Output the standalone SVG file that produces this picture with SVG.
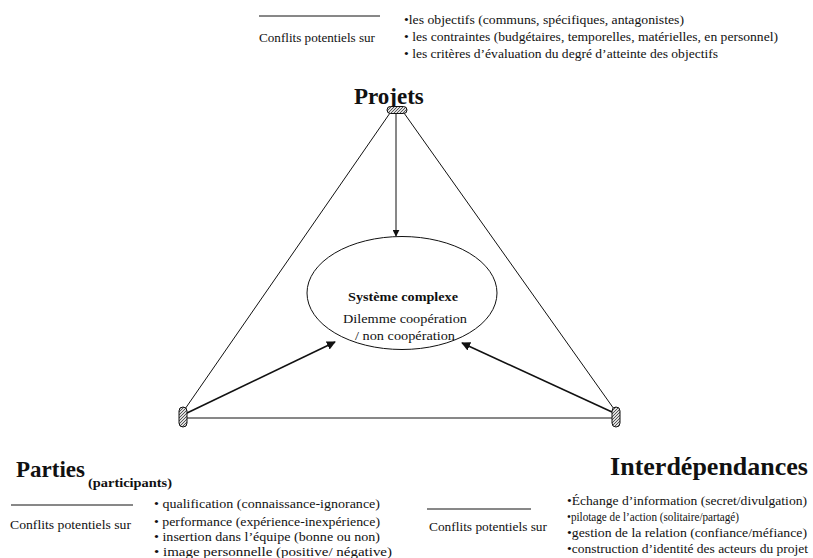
<svg xmlns="http://www.w3.org/2000/svg" width="813" height="558" viewBox="0 0 813 558">
<style>
text{font-family:"Liberation Serif","Times New Roman",serif;fill:#111}
.s{font-size:12px}
.m{font-size:12px}
.t{font-size:23px;font-weight:bold}
.ln{stroke:#111;stroke-width:1;fill:none}
.ar{stroke:#111;stroke-width:1.6;fill:none}
</style>
<defs>
<pattern id="hatch" width="3" height="3" patternUnits="userSpaceOnUse"><rect width="3" height="3" fill="#ddd"/><path d="M0 3L3 0" stroke="#333" stroke-width="0.8"/></pattern>
<marker id="ah" viewBox="0 0 10 10" refX="9" refY="5" markerWidth="7" markerHeight="7" markerUnits="userSpaceOnUse" orient="auto"><path d="M0 0L10 5L0 10z" fill="#111"/></marker>
<marker id="ah2" viewBox="0 0 10 10" refX="9" refY="5" markerWidth="9" markerHeight="9" markerUnits="userSpaceOnUse" orient="auto"><path d="M0 0L10 5L0 10z" fill="#111"/></marker>
</defs>
<g id="connectors">
<line class="ln" x1="390" y1="113" x2="185" y2="409"/>
<line class="ln" x1="404" y1="113" x2="614" y2="409"/>
<line class="ln" x1="187" y1="418" x2="612" y2="418"/>
<line class="ln" x1="396" y1="114" x2="396" y2="236" marker-end="url(#ah)"/>
<line class="ar" x1="187" y1="413" x2="335" y2="342" marker-end="url(#ah2)"/>
<line class="ar" x1="612" y1="412" x2="462" y2="343" marker-end="url(#ah2)"/>
</g>
<g id="systeme">
<ellipse cx="402" cy="293" rx="95" ry="56.5" fill="none" stroke="#111" stroke-width="1"/>
<text x="348" y="301" textLength="110" lengthAdjust="spacingAndGlyphs" style="font-size:13px;font-weight:bold">Système complexe</text>
<text x="343" y="323" textLength="124" lengthAdjust="spacingAndGlyphs" style="font-size:13px">Dilemme coopération</text>
<text x="355" y="340" textLength="100" lengthAdjust="spacingAndGlyphs" style="font-size:13px">/ non coopération</text>
</g>
<g id="projets">
<text x="354" y="104" class="t">Projets</text>
<rect x="387" y="106.5" width="20" height="7" rx="3.5" fill="url(#hatch)" stroke="#111" stroke-width="1"/>
<line class="ln" x1="259" y1="16" x2="380" y2="16"/>
<text x="259" y="42" class="s" textLength="116" lengthAdjust="spacingAndGlyphs">Conflits potentiels sur</text>
<text x="404" y="24" class="s" textLength="280" lengthAdjust="spacingAndGlyphs">•les objectifs (communs, spécifiques, antagonistes)</text>
<text x="404" y="41" class="s" textLength="374" lengthAdjust="spacingAndGlyphs">• les contraintes (budgétaires, temporelles, matérielles, en personnel)</text>
<text x="404" y="58" class="s" textLength="314" lengthAdjust="spacingAndGlyphs">• les critères d’évaluation du degré d’atteinte des objectifs</text>
</g>
<g id="parties">
<rect x="179" y="407" width="8" height="20" rx="4" fill="url(#hatch)" stroke="#111" stroke-width="1"/>
<text x="16" y="477" class="t">Parties</text>
<text x="88" y="487" textLength="84" lengthAdjust="spacingAndGlyphs" style="font-size:13px;font-weight:bold">(participants)</text>
<line class="ln" x1="11" y1="505" x2="133" y2="505"/>
<text x="10" y="529" class="m" textLength="121" lengthAdjust="spacingAndGlyphs">Conflits potentiels sur</text>
<text x="154" y="508" class="m" textLength="226" lengthAdjust="spacingAndGlyphs">• qualification (connaissance-ignorance)</text>
<text x="154" y="526" class="m" textLength="226" lengthAdjust="spacingAndGlyphs">• performance (expérience-inexpérience)</text>
<text x="154" y="541" class="m" textLength="226" lengthAdjust="spacingAndGlyphs">• insertion dans l’équipe (bonne ou non)</text>
<text x="154" y="556" class="m" textLength="238" lengthAdjust="spacingAndGlyphs">• image personnelle (positive/ négative)</text>
</g>
<g id="interdependances">
<rect x="612" y="407" width="8" height="20" rx="4" fill="url(#hatch)" stroke="#111" stroke-width="1"/>
<text x="808" y="475" text-anchor="end" style="font-size:26px;font-weight:bold">Interdépendances</text>
<line class="ln" x1="427" y1="509" x2="531" y2="509"/>
<text x="429" y="531" class="m" textLength="118" lengthAdjust="spacingAndGlyphs">Conflits potentiels sur</text>
<text x="567" y="505" class="m" textLength="240" lengthAdjust="spacingAndGlyphs">•Échange d’information (secret/divulgation)</text>
<text x="567" y="521" class="m" textLength="172" lengthAdjust="spacingAndGlyphs">•pilotage de l’action (solitaire/partagé)</text>
<text x="567" y="537" class="m" textLength="240" lengthAdjust="spacingAndGlyphs">•gestion de la relation (confiance/méfiance)</text>
<text x="567" y="553" class="m" textLength="241" lengthAdjust="spacingAndGlyphs">•construction d’identité des acteurs du projet</text>
</g>
</svg>
